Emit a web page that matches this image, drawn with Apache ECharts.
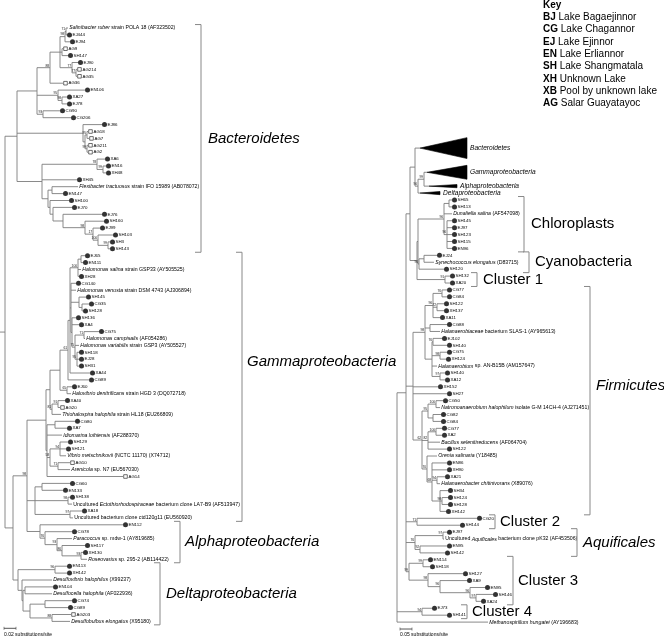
<!DOCTYPE html>
<html><head><meta charset="utf-8">
<script src="https://cdn.jsdelivr.net/npm/echarts@6/dist/echarts.min.js"></script>
<style>html,body{margin:0;padding:0;background:#fff}#c{width:664px;height:639px}</style>
</head><body><div id="c"></div>
<script>
// Tree encoding. Internal node: [branchLength, [children], bootstrap]
// Leaf: [branchLength, label, type]  type d = clone (filled circle), s = AG clone (open square), r = reference strain
// Collapsed clade: [branchLength, label, 'c', depth, rows]
// Branch lengths are in scale units: left tree 12 units = 0.02 subst./site, right tree 12 units = 0.05 subst./site

const bacteroidetesUpper = [20, [
  [13, [
    [10, [
      [5, [
        [1, [[2, '{i|Salinibacter ruber} strain POLA 18 (AF323502)', 'r'], [1, 'EJ444', 'd']], 71],
        [5, 'EJ94', 'd']
      ], 98],
      [2, [[1, 'AG9', 's'], [6, 'SH147', 'd']]],
      [12, [[6, 'EJ90', 'd'], [4, [[1, 'AG214', 's'], [1, 'AG35', 's']], 77]], 77]
    ]],
    [13, 'AG36', 's']
  ], 88],
  [21, [[27, 'EN106', 'd'], [4, [[5, 'XA27', 'd'], [5, 'EJ78', 'd']], 98]], 95],
  [6, [[17, 'CG90', 'd'], [28, 'CG206', 'd']], 93]
]];

const bacteroidetesMiddle = [66, [
  [19, 'EJ86', 'd'],
  [2, [
    [2, [[1, 'AG18', 's'], [2, 'AG7', 's']], 95],
    [2, [[1, 'AG211', 's'], [1, 'AG2', 's']], 99]
  ]]
]];

const bacteroidetesLower = [25, [
  [55, [[8, 'XA6', 'd'], [6, [[3, 'EN16', 'd'], [3, 'XH48', 'd']], 99]], 78],
  [35, 'XH45', 'd'],
  [6, [
    [4, [[26, '{i|Flexibacter tractuosus} strain IFO 15989 (AB078072)', 'r'], [11, 'EN147', 'd']]],
    [2, [
      [19, 'SH100', 'd'],
      [3, [
        [19, 'EJ70', 'd'],
        [10, [
          [39, 'EJ76', 'd'],
          [22, [
            [19, 'SH160', 'd'],
            [8, [
              [7, 'EJ99', 'd'],
              [5, [
                [15, 'SH103', 'd'],
                [10, [[2, 'SH3', 'd'], [2, 'SH143', 'd']], 99]
              ], 100]
            ], 17]
          ], 98]
        ]]
      ]]
    ]]
  ]]
]];

const gammaHalomonas = [8, [
  [2, [
    [8, [
      [3, [[4, 'EJ65', 'd'], [2, 'EN111', 'd']]],
      [3, '{i|Halomonas salina} strain GSP33 (AY505525)', 'r'],
      [1, 'XH28', 'd']
    ], 100],
    [1, [
      [5, 'CG140', 'd'],
      [5, '{i|Halomonas venusta} strain DSM 4743 (AJ306894)', 'r'],
      [8, [[7, 'SH145', 'd'], [3, [[7, 'CG35', 'd'], [1, 'SH128', 'd']]]]],
      [1, [
        [4, 'SH136', 'd'],
        [7, 'XA4', 'd'],
        [3, [
          [9, [[15, 'CG75', 'd'], [1, '{i|Halomonas campisalis} (AF054286)', 'r']], 71],
          [4, '{i|Halomonas variabilis} strain GSP3 (AY505527)', 'r'],
          [2, [[2, 'SH118', 'd'], [2, 'EJ28', 'd'], [2, 'SH31', 'd']], 95]
        ], 75]
      ]]
    ]],
    [20, 'XA44', 'd']
  ]],
  [21, 'CG89', 'd']
], 61];

const gammaMain = [19, [
  [4, [
    [10, [
      gammaHalomonas,
      [7, [[5, 'EJ60', 'd'], [4, '{i|Halovibrio denitrificans} strain HGD 3 (DQ072718)', 'r']], 65]
    ]],
    [2, [
      [6, [[7, 'XA40', 'd'], [2, 'AG20', 's']], 91],
      [9, '{i|Thiohalospira halophila} strain HL18 (EU266809)', 'r']
    ], 81]
  ]],
  [1, [
    [8, [[20, 'CG80', 'd'], [12, 'XA7', 'd']]],
    [15, '{i|Idiomarina loihiensis} (AF288370)', 'r'],
    [3, [
      [10, [[8, 'SH129', 'd'], [6, 'SH121', 'd'], [6, '{i|Vibrio metschnikovii} (NCTC 11170) (X74712)', 'r']], 94],
      [8, [[12, 'AG10', 's'], [12, '{i|Arenicola} sp. N7 (EU567030)', 'r']], 71]
    ], 58],
    [76, 'AG14', 's']
  ]]
]];

const gammaUncultured = [8, [
  [7, [[28, 'CG60', 'd'], [21, 'EN133', 'd']]],
  [33, [[2, 'SH138', 'd'], [4, 'Uncultured {i|Ectothiorhodospiraceae} bacterium clone LA7-B9 (AF513947)', 'r']], 98],
  [35, [[12, 'XA18', 'd'], [3, 'Uncultured bacterium clone ctd120g11 (EU560920)', 'r']], 97]
]];

const alphaClade = [13, [
  [83, 'EN112', 'd'],
  [5, [
    [27, 'CG78', 'd'],
    [12, [
      [15, '{i|Paracoccus} sp. mdw-1 (AY819685)', 'r'],
      [5, [
        [23, 'SH117', 'd'],
        [19, [[2, 'XH130', 'd'], [6, '{i|Roseovarius} sp. 295-2 (AB114422)', 'r']], 93]
      ], 86]
    ], 93]
  ], 76]
]];

const deltaClade = [5, [
  [37, [[12, 'EN113', 'd'], [12, 'XH142', 'd']], 96],
  [4, [
    [30, '{i|Desulfovibrio halophilus} (X99237)', 'r'],
    [1, [
      [2, [[28, 'EN104', 'd'], [27, '{i|Desulfocella halophila} (AF022936)', 'r']]],
      [7, [
        [15, [[27, 'CG74', 'd'], [23, 'CG89', 'd']]],
        [22, [[19, 'AG203', 's'], [18, '{i|Desulfobulbus elongatus} (X95180)', 'r']], 88]
      ]]
    ]]
  ]]
]];

const leftTree = [5, [
  [12, [bacteroidetesUpper, bacteroidetesMiddle, bacteroidetesLower]],
  [8, [[14, [gammaMain, gammaUncultured, alphaClade], 98], deltaClade]]
]];

// ---- right tree ----
const collapsedClades = [5, [
  [5, 'Bacteroidetes', 'c', 47, 4],
  [3, [
    [6, [[3, 'Gammaproteobacteria', 'c', 40, 3], [5, 'Alphaproteobacteria', 'c', 28, 1]], 99],
    [2, 'Deltaproteobacteria', 'c', 20, 1]
  ], 90]
]];

const phototrophs = [7, [
  [1, [
    [26, [
      [5, [[3, 'SH65', 'd'], [3, 'SH113', 'd']]],
      [8, '{i|Dunaliella salina} (AF547098)', 'r'],
      [3, [[5, 'SH145', 'd'], [5, 'EJ97', 'd'], [5, 'SH123', 'd'], [5, 'SH115', 'd'], [5, 'EN96', 'd']], 96]
    ], 96],
    [1, [
      [5, [[13, 'EJ24', 'd'], [10, '{i|Synechococcus elongatus} (D83715)', 'r']]],
      [25, 'SH120', 'd']
    ], 96]
  ]],
  [28, [[5, 'SH132', 'd'], [5, 'XA20', 'd']], 91]
]];

const firmicutes = [7, [
  [12, [
    [8, [
      [9, [[5, 'CG77', 'd'], [5, 'CG84', 'd']], 76],
      [4, [[7, 'SH122', 'd'], [7, 'XH137', 'd']], 72],
      [7, 'XA11', 'd']
    ], 96],
    [5, [[17, 'CG88', 'd'], [10, '{i|Halanaerobiaceae} bacterium SLAS-1 (AY965613)', 'r']]],
    [7, [
      [1, [[9, 'EJ102', 'd'], [14, 'SH140', 'd']], 76],
      [8, [[7, 'CG75', 'd'], [6, 'XH124', 'd']], 98],
      [5, '{i|Halanaerobium} sp. AN-B15B (AM157647)', 'r'],
      [8, [[5, 'SH140', 'd'], [5, 'XA12', 'd']], 97]
    ]]
  ], 98],
  [25, 'XH152', 'd'],
  [34, 'SH27', 'd'],
  [9, [
    [6, [
      [8, [[7, 'CG50', 'd'], [4, '{i|Natronoanaerobium halophilum} isolate G-M 14CH-4 (AJ271451)', 'r']], 100],
      [5, [[8, 'CG82', 'd'], [8, 'CG84', 'd']]]
    ], 95],
    [6, [
      [8, [[6, 'CG77', 'd'], [6, 'XA2', 'd']], 100],
      [12, '{i|Bacillus selenitireducens} (AF064704)', 'r'],
      [19, 'SH122', 'd']
    ], 82],
    [5, [
      [10, '{i|Orenia salinaria} (Y18485)', 'r'],
      [5, [
        [15, 'EN86', 'd'],
        [15, 'XH90', 'd'],
        [5, [[8, 'XA21', 'd'], [3, '{i|Halanaerobacter chitinivorans} (X89076)', 'r']], 94],
        [8, [
          [8, 'SH34', 'd'],
          [2, [[6, 'SH124', 'd'], [6, 'SH128', 'd']], 98],
          [6, 'XH142', 'd']
        ]]
      ], 68]
    ], 70]
  ], 62]
]];

const cluster2 = [11, [[60, 'CG20', 'd'], [43, 'SH144', 'd']], 71];
const aquificales = [9, [
  [28, [[4, 'EJ97', 'd'], [1, 'Uncultured {i|Aquificales} bacterium clone pK32 (AF453506)', 'r']], 97],
  [5, [[27, 'EN95', 'd'], [25, 'SH142', 'd']], 92]
], 76];
const cluster3 = [3, [
  [14, [[5, 'EN114', 'd'], [7, 'SH118', 'd']], 99],
  [19, [
    [35, 'SH127', 'd'],
    [12, [
      [27, 'XA9', 'd'],
      [30, [[15, 'EN95', 'd'], [6, [[17, 'SH146', 'd'], [5, 'XA24', 'd']], 97]], 96]
    ], 96]
  ], 98]
], 99];
const cluster4 = [25, [[10, 'EJ73', 'd'], [25, 'SH141', 'd']], 94];
const outgroup = [91, '{i|Methanospirillum hungatei} (AY196683)', 'r'];

const rightTree = [0, [
  [9, [
    [4, [collapsedClades, phototrophs]],
    firmicutes, cluster2, aquificales, cluster3
  ]],
  cluster4, outgroup
]];

// clade brackets: leaf-row ranges
const leftCladeNames = ['Bacteroidetes', 'Gammaproteobacteria', 'Alphaproteobacteria', 'Deltaproteobacteria'];
const leftCladeFirst = [0, 33, 72, 78];
const leftCladeLast = [32, 71, 77, 86];
const leftCladeItalic = [true, true, true, true];

const rightCladeNames = ['Chloroplasts', 'Cyanobacteria', 'Cluster 1', 'Firmicutes', 'Cluster 2', 'Aquificales', 'Cluster 3', 'Cluster 4'];
const rightCladeFirst = [9, 17, 20, 22, 55, 57, 61, 68];
const rightCladeLast = [16, 19, 21, 54, 56, 60, 67, 69];
const rightCladeItalic = [false, false, false, true, false, true, false, false];

const keyCodes = ['BJ', 'CG', 'EJ', 'EN', 'SH', 'XH', 'XB', 'AG'];
const keyNames = ['Lake Bagaejinnor', 'Lake Chagannor', 'Lake Ejinnor', 'Lake Erliannor', 'Lake Shangmatala', 'Unknown Lake', 'Pool by unknown lake', 'Salar Guayatayoc'];

const scaleBarLabels = ['0.02 substitutions/site', '0.05 substitutions/site'];
const scaleBarUnits = [12, 12];

// ---------- layout / style (positions, not data) ----------
const ROW_L = 6.9, TOP_L = 28, ROWS_L = 86;
const ROW_R = 6.92, TOP_R = 137.7, ROWS_R = 70;
const RIGHT_ORIGIN = 397;
const FONT = 'Liberation Sans';
const LINE = '#7d7d7d';
const leftBracketX = [201, 242, 180, 160];
const leftLabelX = [208, 247, 185, 166];
const leftLabelDy = [0, -25, 0, 0];
const rightBracketX = [524, 529, 477, 590, 495, 577, 513, 467];
const rightLabelX = [531, 535, 483, 596, 500, 583, 518, 472];
const rightLabelDy = [0, 0, 0, -15, 0, 0, 0, 0];

function buildTree(tree) {
  const out = { lines: [], leaves: [], tris: [], boots: [] };
  let row = 0;
  function walk(node, px) {
    const x = px + node[0];
    if (Array.isArray(node[1])) {
      const ys = node[1].map(ch => walk(ch, x));
      const y = (ys[0] + ys[ys.length - 1]) / 2;
      out.lines.push([x, ys[0], x, ys[ys.length - 1]]);
      if (node[0] > 0) out.lines.push([px, y, x, y]);
      if (node[2] != null) out.boots.push([x, y, node[2]]);
      return y;
    }
    const type = node[2];
    let y;
    if (type === 'c') {
      const rows = node[4];
      y = row + (rows - 1) / 2;
      row += rows;
      out.tris.push([x, y, node[3], rows, node[1]]);
    } else {
      y = row;
      row += 1;
      out.leaves.push([x, y, node[1], type]);
    }
    out.lines.push([px, y, x, y]);
    return y;
  }
  walk(tree, 0);
  return out;
}

const L = buildTree(leftTree);
const R = buildTree(rightTree);

function lineSeries(t, gi) {
  return {
    type: 'custom', xAxisIndex: gi, yAxisIndex: gi, clip: false, silent: true,
    data: t.lines,
    renderItem(p, api) {
      const a = api.coord([api.value(0), api.value(1)]);
      const b = api.coord([api.value(2), api.value(3)]);
      return { type: 'line', shape: { x1: a[0], y1: a[1], x2: b[0], y2: b[1] },
        style: { stroke: LINE, lineWidth: 0.9 } };
    }
  };
}
function markerSeries(t, gi, type) {
  const data = t.leaves.filter(l => l[3] === type).map(l => [l[0] + 2.5, l[1]]);
  return {
    type: 'scatter', xAxisIndex: gi, yAxisIndex: gi, silent: true, data,
    symbol: type === 'd' ? 'circle' : 'rect',
    symbolSize: type === 'd' ? 5 : 3.6,
    itemStyle: type === 'd' ? { color: '#000' } : { color: '#fff', borderColor: '#000', borderWidth: 0.7 }
  };
}
function labelSeries(t, gi) {
  return {
    type: 'custom', xAxisIndex: gi, yAxisIndex: gi, clip: false, silent: true,
    data: t.leaves.map((l, i) => [l[0], l[1], i]),
    renderItem(p, api) {
      const l = t.leaves[api.value(2)];
      const ref = l[3] === 'r';
      const c = api.coord([l[0] + (ref ? 1.2 : 5.5), l[1]]);
      return { type: 'text', x: c[0], y: c[1],
        style: { text: l[2], fill: '#000', fontFamily: FONT, fontSize: ref ? 5.2 : 4.4,
          verticalAlign: 'middle', align: 'left',
          rich: { i: { fontStyle: 'italic', fontFamily: FONT, fontSize: 5.2 } } } };
    }
  };
}
function bootSeries(t, gi) {
  return {
    type: 'custom', xAxisIndex: gi, yAxisIndex: gi, clip: false, silent: true,
    data: t.boots,
    renderItem(p, api) {
      const c = api.coord([api.value(0), api.value(1)]);
      return { type: 'text', x: c[0] - 0.8, y: c[1] - 0.6,
        style: { text: String(api.value(2)), fill: '#222', fontFamily: FONT, fontSize: 3.4,
          align: 'right', verticalAlign: 'bottom' } };
    }
  };
}
function triSeries(t, gi, rowH) {
  return {
    type: 'custom', xAxisIndex: gi, yAxisIndex: gi, clip: false, silent: true,
    data: t.tris.map((tr, i) => [tr[0], tr[1], tr[2], tr[3], i]),
    renderItem(p, api) {
      const tr = t.tris[api.value(4)];
      const apex = api.coord([tr[0], tr[1]]);
      const base = api.coord([tr[0] + tr[2], tr[1]]);
      const h = Math.max(1.6, tr[3] * rowH / 2 - 3.4);
      return { type: 'group', children: [
        { type: 'polygon', shape: { points: [apex, [base[0], base[1] - h], [base[0], base[1] + h]] },
          style: { fill: '#000', stroke: '#000', lineWidth: 0.6 } },
        { type: 'text', x: base[0] + 3, y: base[1],
          style: { text: tr[4], fontFamily: FONT, fontStyle: 'italic', fontSize: 6.6, fill: '#000',
            verticalAlign: 'middle' } }
      ] };
    }
  };
}
function bracketSeries(gi, names, first, last, italic, bx, lx, dy) {
  return {
    type: 'custom', xAxisIndex: gi, yAxisIndex: gi, clip: false, silent: true,
    data: names.map((n, i) => [first[i], last[i], i]),
    renderItem(p, api) {
      const i = api.value(2);
      const y1 = api.coord([0, api.value(0) - 0.5])[1];
      const y2 = api.coord([0, api.value(1) + 0.5])[1];
      return { type: 'group', children: [
        { type: 'polyline', shape: { points: [[bx[i] - 6, y1], [bx[i], y1], [bx[i], y2], [bx[i] - 6, y2]] },
          style: { stroke: '#888', fill: null, lineWidth: 1 } },
        { type: 'text', x: lx[i], y: (y1 + y2) / 2 + dy[i],
          style: { text: names[i], fontFamily: FONT, fontSize: 15, fontStyle: italic[i] ? 'italic' : 'normal',
            fill: '#000', verticalAlign: 'middle' } }
      ] };
    }
  };
}
function scaleSeries(gi, idx, x0, row) {
  return {
    type: 'custom', xAxisIndex: gi, yAxisIndex: gi, clip: false, silent: true,
    data: [[x0, row, idx]],
    renderItem(p, api) {
      const a = api.coord([api.value(0), api.value(1)]);
      const b = api.coord([api.value(0) + scaleBarUnits[idx], api.value(1)]);
      return { type: 'group', children: [
        { type: 'line', shape: { x1: a[0], y1: a[1], x2: b[0], y2: b[1] }, style: { stroke: '#444', lineWidth: 0.9 } },
        { type: 'line', shape: { x1: a[0], y1: a[1] - 1.5, x2: a[0], y2: a[1] + 1.5 }, style: { stroke: '#444', lineWidth: 0.6 } },
        { type: 'line', shape: { x1: b[0], y1: b[1] - 1.5, x2: b[0], y2: b[1] + 1.5 }, style: { stroke: '#444', lineWidth: 0.6 } },
        { type: 'text', x: a[0], y: a[1] + 3.5, style: { text: scaleBarLabels[idx], fontFamily: FONT, fontSize: 5, fill: '#000', verticalAlign: 'top' } }
      ] };
    }
  };
}

const keyGraphics = [{ type: 'text', left: 543, top: 0, style: { text: 'Key', font: 'bold 10px "Liberation Sans"', fill: '#000' } }]
  .concat(keyCodes.map((c, i) => ({
    type: 'text', left: 543, top: 12.3 * (i + 1),
    style: { text: '{b|' + c + '} ' + keyNames[i], fontFamily: FONT, fontSize: 10, fill: '#000',
      rich: { b: { fontWeight: 'bold', fontFamily: FONT, fontSize: 10 } } }
  })));

const chart = echarts.init(document.getElementById('c'), null, { renderer: 'canvas' });
chart.setOption({
  animation: false,
  backgroundColor: '#fff',
  grid: [
    { left: 0, top: TOP_L, width: 664, height: ROWS_L * ROW_L },
    { left: RIGHT_ORIGIN, top: TOP_R, width: 664 - RIGHT_ORIGIN, height: ROWS_R * ROW_R }
  ],
  xAxis: [
    { type: 'value', gridIndex: 0, min: 0, max: 664, show: false },
    { type: 'value', gridIndex: 1, min: 0, max: 664 - RIGHT_ORIGIN, show: false }
  ],
  yAxis: [
    { type: 'value', gridIndex: 0, min: 0, max: ROWS_L, inverse: true, show: false },
    { type: 'value', gridIndex: 1, min: 0, max: ROWS_R, inverse: true, show: false }
  ],
  graphic: keyGraphics,
  series: [
    lineSeries(L, 0), lineSeries(R, 1),
    triSeries(R, 1, ROW_R),
    markerSeries(L, 0, 'd'), markerSeries(L, 0, 's'),
    markerSeries(R, 1, 'd'), markerSeries(R, 1, 's'),
    labelSeries(L, 0), labelSeries(R, 1),
    bootSeries(L, 0), bootSeries(R, 1),
    bracketSeries(0, leftCladeNames, leftCladeFirst, leftCladeLast, leftCladeItalic, leftBracketX, leftLabelX, leftLabelDy),
    bracketSeries(1, rightCladeNames, rightCladeFirst, rightCladeLast, rightCladeItalic, rightBracketX, rightLabelX, rightLabelDy),
    scaleSeries(0, 0, 4, ROWS_L + 1),
    scaleSeries(1, 1, 3, ROWS_R + 1)
  ]
});
</script></body></html>
